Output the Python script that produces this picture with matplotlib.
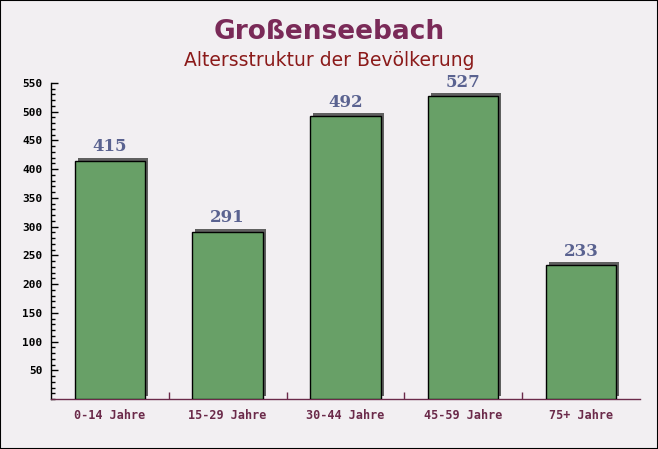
import matplotlib
matplotlib.use("Agg")
import matplotlib.pyplot as plt
import matplotlib.transforms as mtrans
from matplotlib.patches import Rectangle

categories = ["0-14 Jahre", "15-29 Jahre", "30-44 Jahre", "45-59 Jahre", "75+ Jahre"]
values = [415, 291, 492, 527, 233]
title = "Großenseebach"
subtitle = "Altersstruktur der Bevölkerung"

W, H = 658, 449
fig = plt.figure(figsize=(W / 100, H / 100), dpi=100)
fig.patch.set_facecolor("#f2eff2")

# figure border
fig.add_artist(Rectangle((0, 0), 1, 1, transform=fig.transFigure, fill=False,
                         edgecolor="black", linewidth=1.5))

ax = fig.add_axes([51 / W, 1 - 399 / H, (639.75 - 51) / W, (399 - 83) / H])
ax.set_facecolor("none")

x = list(range(len(categories)))
shadow_tr = mtrans.offset_copy(ax.transData, fig=fig, x=3, y=3, units="dots")
ax.bar(x, values, width=0.6, color="#606060", edgecolor="none",
       transform=shadow_tr, zorder=2)
ax.bar(x, values, width=0.6, color="#68a067", edgecolor="black",
       linewidth=1.0, zorder=3)

for xi, v in zip(x, values):
    ax.annotate(str(v), (xi, v), xytext=(0, 4), textcoords="offset points",
                ha="center", va="bottom", fontsize=12, fontweight="bold",
                family="DejaVu Serif", color="#5a6290", zorder=4)

ax.set_xlim(-0.5, len(categories) - 0.5)
ax.set_ylim(0, 550)

for s in ["top", "right"]:
    ax.spines[s].set_visible(False)
ax.spines["left"].set_color("black")
ax.spines["bottom"].set_color("#6b2a4a")
ax.spines["left"].set_linewidth(1.0)
ax.spines["bottom"].set_linewidth(1.0)

ax.set_yticks(range(50, 551, 50))
ax.set_yticks(range(0, 551, 10), minor=True)
ax.tick_params(axis="y", which="major", direction="in", length=5, width=1,
               color="black", labelsize=8, pad=6)
ax.tick_params(axis="y", which="minor", direction="in", length=3, width=1,
               color="black")
for lab in ax.get_yticklabels():
    lab.set_family("DejaVu Sans Mono")
    lab.set_fontweight("bold")

ax.set_xticks(x)
ax.set_xticklabels(categories, family="DejaVu Sans Mono", fontsize=8.5,
                   fontweight="bold", color="#6b2a4a")
ax.set_xticks([i + 0.5 for i in x[:-1]], minor=True)
ax.tick_params(axis="x", which="major", length=0, pad=7)
ax.tick_params(axis="x", which="minor", direction="in", length=5, width=1,
               color="#6b2a4a")

fig.text(329 / W, 1 - 32 / H, title, ha="center", va="center", fontsize=19,
         fontweight="bold", color="#7a2a58", family="DejaVu Sans")
fig.text(329 / W, 1 - 61 / H, subtitle, ha="center", va="center", fontsize=13.5,
         color="#8b1a1a", family="DejaVu Sans")

fig.savefig("out.png", dpi=100, facecolor=fig.get_facecolor())
